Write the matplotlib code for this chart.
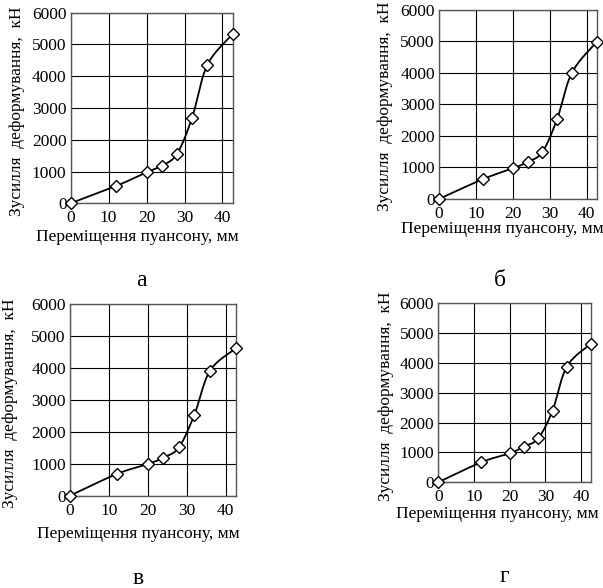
import matplotlib
matplotlib.use("Agg")
import matplotlib.pyplot as plt
import numpy as np

plt.rcParams['font.family'] = ['Liberation Serif', 'DejaVu Serif']

# Displacement of the punch, mm (same for all four cases)
x = [0, 12, 20, 24, 28, 32, 36, 42.7]

# Deforming force, kN
force_a = [0, 545, 975, 1185, 1550, 2695, 4353, 5329]
force_b = [0, 635, 974, 1175, 1492, 2540, 4011, 4984]
force_v = [0, 678, 991, 1190, 1513, 2536, 3913, 4612]
force_g = [0, 670, 972, 1196, 1475, 2402, 3877, 4637]

captions = ["а", "б", "в", "г"]
xlabel = "Переміщення пуансону, мм"
ylabel = "Зусилля  деформування,  кН"


# Excel-like smoothed line (Catmull-Rom) through the measured points
def smooth(px, py, n=30):
    P = np.column_stack([np.asarray(px, float), np.asarray(py, float)])
    P = np.vstack([P[0], P, P[-1]])
    out = []
    t = np.linspace(0, 1, n)
    for i in range(1, len(P) - 2):
        p0, p1, p2, p3 = P[i - 1], P[i], P[i + 1], P[i + 2]
        seg = 0.5 * ((2 * p1)[None, :]
                     + np.outer(t, -p0 + p2)
                     + np.outer(t**2, 2 * p0 - 5 * p1 + 4 * p2 - p3)
                     + np.outer(t**3, -p0 + 3 * p1 - 3 * p2 + p3))
        out.append(seg)
    out = np.vstack(out)
    return out[:, 0], out[:, 1]


fig = plt.figure(figsize=(6.03, 5.88), dpi=100)

# axes rect, caption position (px), xlabel coords, ylabel coords
panels = [
    ([0.1172, 0.6543, 0.2687, 0.3241], force_a, (141.7, 280),
     (0.409, -0.177), (-0.333, 0.482)),
    ([0.7280, 0.6616, 0.2615, 0.3214], force_b, (500, 280),
     (0.400, -0.159), (-0.342, 0.493)),
    ([0.1161, 0.1570, 0.2753, 0.3260], force_v, (138, 578),
     (0.414, -0.200), (-0.361, 0.482)),
    ([0.7269, 0.1798, 0.2527, 0.3044], force_g, (504, 577),
     (0.390, -0.177), (-0.343, 0.478)),
]

for (rect, y, cpos, xl, yl), cap in zip(panels, captions):
    ax = fig.add_axes(rect)
    sx, sy = smooth(x, y)
    ax.plot(sx, sy, color="black", linewidth=1.3, zorder=3)
    ax.plot(x, y, linestyle="none", marker="D", markersize=6.5,
            markerfacecolor="white", markeredgecolor="black",
            markeredgewidth=1.0, zorder=4, clip_on=False)
    ax.set_xlim(0, x[-1])
    ax.set_ylim(0, 6000)
    ax.set_xticks([0, 10, 20, 30, 40])
    ax.set_yticks(range(0, 6001, 1000))
    ax.grid(True, color="black", linewidth=0.8)
    ax.set_axisbelow(True)
    ax.tick_params(length=0, labelsize=12.5)
    ax.tick_params(axis="x", pad=5)
    ax.tick_params(axis="y", pad=3)
    for s in ax.spines.values():
        s.set_color("#555555")
        s.set_linewidth(1.0)
    ax.set_xlabel(xlabel, fontsize=12.5, va="center")
    ax.set_ylabel(ylabel, fontsize=12.5, va="center")
    ax.xaxis.set_label_coords(*xl)
    ax.yaxis.set_label_coords(*yl)
    fig.text(cpos[0] / 603, 1 - cpos[1] / 588, cap, fontsize=17,
             ha="center", va="center")

fig.savefig("out.png", dpi=100)
